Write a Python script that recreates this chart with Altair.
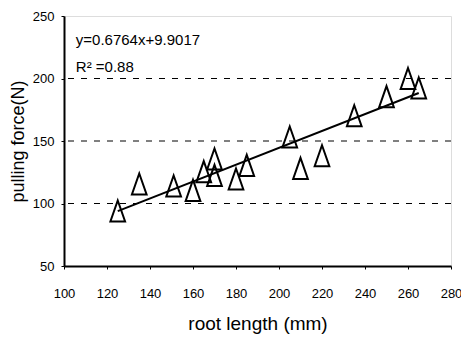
import altair as alt
import pandas as pd

# data
root_length = [125, 135, 151, 160, 165, 170, 170, 180, 185, 205, 210, 220, 235, 250, 260, 265]
pulling_force = [94, 115.6, 114, 110.5, 125.5, 135.6, 122.5, 119.6, 130.5, 153.2, 128.1, 138.2, 170.2, 185.5, 200, 192.4]
grid_y = [100, 150, 200]
x_ticks = [100, 120, 140, 160, 180, 200, 220, 240, 260, 280]
y_ticks = [50, 100, 150, 200, 250]
eq_text = ["y=0.6764x+9.9017", "R\u00b2 =0.88"]
eq_x = [105.5, 105.5]
eq_y = [226.8, 205.2]

df = pd.DataFrame({"x": root_length, "y": pulling_force})
grid_df = pd.DataFrame({"y": grid_y})
eq_df = pd.DataFrame({"t": eq_text, "x": eq_x, "y": eq_y})

NARROW = "Liberation Sans Narrow, Arial Narrow, Liberation Sans, Arial"
FONT = "Liberation Sans, Arial, sans-serif"

xs = alt.Scale(domain=[100, 280], nice=False, zero=False)
ys = alt.Scale(domain=[50, 250], nice=False, zero=False)

xenc = alt.X("x:Q", scale=xs, title="root length (mm)",
             axis=alt.Axis(values=x_ticks, grid=False, domainColor="black", domainWidth=2,
                           tickColor="black", tickSize=3, labelFont=NARROW, labelFontSize=13,
                           labelFlush=False, labelOverlap=False,
                           labelPadding=18, labelColor="black", titleFont=FONT, titleFontSize=19,
                           titleFontWeight="normal", titlePadding=14, titleColor="black"))
yenc = alt.Y("y:Q", scale=ys, title="pulling force(N)",
             axis=alt.Axis(values=y_ticks, grid=False, domainColor="black", domainWidth=2,
                           tickColor="black", tickSize=3, labelFont=NARROW, labelFontSize=13,
                           labelFlush=False, labelOverlap=False,
                           labelPadding=7, labelColor="black", titleFont=FONT, titleFontSize=18,
                           titleFontWeight="normal", titlePadding=5, titleColor="black"))

grid = alt.Chart(grid_df).mark_rule(color="black", strokeWidth=1, strokeDash=[6, 7]).encode(
    y=yenc
)

points = alt.Chart(df).mark_point(
    shape="M0,-1L0.7,1L-0.7,1Z", size=441, filled=False, color="black", strokeWidth=2, opacity=1
).encode(x=xenc, y=yenc)

line = alt.Chart(df).transform_regression("x", "y").mark_line(color="black", strokeWidth=2).encode(
    x=alt.X("x:Q", scale=xs), y=alt.Y("y:Q", scale=ys)
)

eq = alt.Chart(eq_df).mark_text(align="left", baseline="alphabetic", font=NARROW, fontSize=15,
                                color="black").encode(
    x=alt.X("x:Q", scale=xs), y=alt.Y("y:Q", scale=ys), text="t:N"
)

chart = alt.layer(grid, points, line, eq).properties(
    width=387, height=250,
    autosize=alt.AutoSizeParams(type="none"),
    padding={"left": 56, "top": 8, "right": 10, "bottom": 73},
).configure_view(
    stroke="#555555", strokeWidth=1, strokeDash=[1, 1]
).configure(background="white")

chart.save("out.html", embed_options={"renderer": "svg", "actions": False})
